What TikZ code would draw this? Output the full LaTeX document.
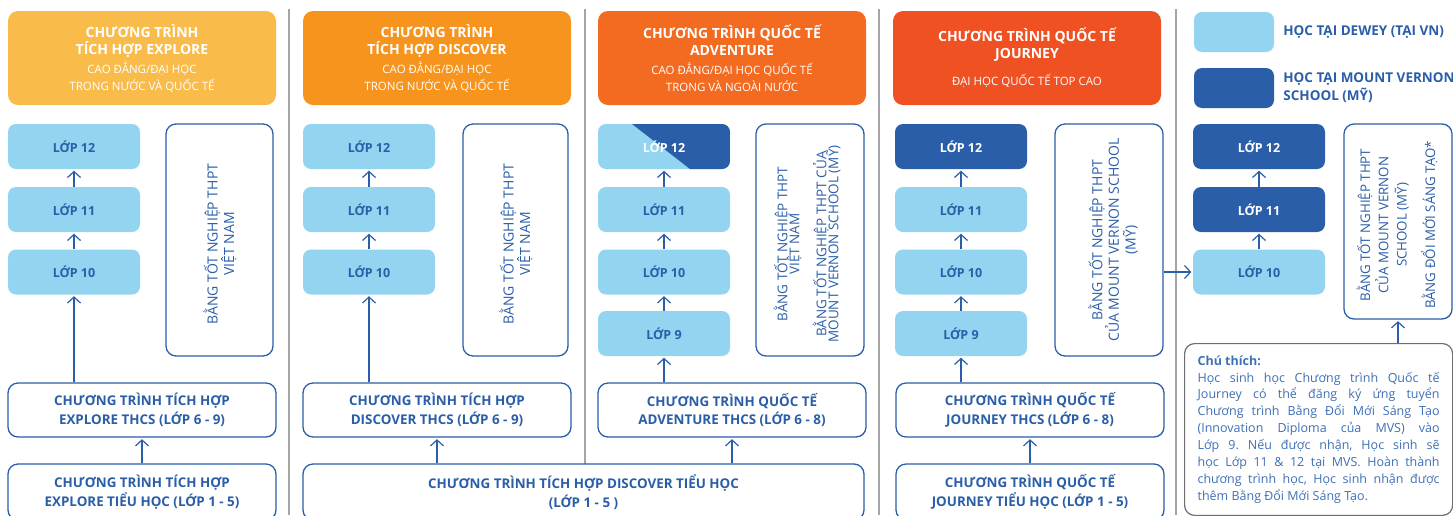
\documentclass[tikz,border=0pt]{standalone}
\usepackage{fontspec}
\setmainfont{Open Sans}
\usepackage{tikz}
\usetikzlibrary{arrows.meta,positioning,calc}
\definecolor{color0}{RGB}{249,188,74}
\definecolor{color1}{RGB}{247,148,29}
\definecolor{color2}{RGB}{242,107,33}
\definecolor{color3}{RGB}{240,81,35}
\definecolor{color4}{RGB}{147,212,240}
\definecolor{color6}{RGB}{42,94,168}
\definecolor{notecolor}{RGB}{62,112,182}
\definecolor{sepcolor}{RGB}{165,165,165}
\definecolor{noteedgecolor}{RGB}{110,110,110}
\newcommand{\tightlines}{\lineskiplimit=-20pt\relax}
\tikzstyle{header}=[rectangle, rounded corners=10pt, minimum width=268pt, minimum height=94pt, inner sep=0pt, text=white, align=center, font=\fontsize{11.5}{17}\selectfont]
\tikzstyle{grade}=[rectangle, rounded corners=8pt, minimum width=132pt, minimum height=45pt, inner sep=0pt, font=\bfseries\fontsize{12.5}{14}\selectfont]
\tikzstyle{dewey grade}=[grade, fill=color4, text=color6]
\tikzstyle{mvs grade}=[grade, fill=color6, text=white]
\tikzstyle{split grade}=[grade, fill=color4, text=white, path picture={\fill[color6, sharp corners] ($(path picture bounding box.north west)+(34,0)$) -- (path picture bounding box.north east) -- (path picture bounding box.south east) -- ($(path picture bounding box.south west)+(92,0)$) -- cycle;}]
\tikzstyle{diploma}=[rectangle, rounded corners=10pt, draw=color6, line width=1.3pt, minimum width=107pt, minimum height=232pt, inner sep=0pt]
\tikzstyle{diploma text}=[rotate=90, align=center, inner sep=0pt, text=color6, font=\fontsize{14}{16.7}\selectfont\tightlines]
\tikzstyle{program}=[rectangle, rounded corners=10pt, draw=color6, fill=white, line width=1.3pt, minimum height=54pt, inner sep=0pt, align=center, text=color6, font=\bfseries\fontsize{13.4}{18.5}\selectfont]
\tikzstyle{legend box}=[rectangle, rounded corners=8pt, minimum width=80pt, minimum height=40pt, inner sep=0pt]
\tikzstyle{legend text}=[align=left, inner sep=0pt, text=color6, font=\bfseries\fontsize{13.5}{18}\selectfont]
\tikzstyle{note}=[rectangle, rounded corners=10pt, draw=noteedgecolor, fill=white, line width=1.2pt, text width=242pt, inner xsep=13pt, inner ysep=12pt, align=justify, text=notecolor, font=\fontsize{12.5}{16.9}\selectfont]
\tikzstyle{gradeedge}=[-{Straight Barb[length=6pt,width=13pt]}, line width=1.2pt, color6, shorten >=1.5pt]
\tikzstyle{sepline}=[line width=1.5pt, sepcolor]

\begin{document}
\begin{tikzpicture}[x=1pt,y=-1pt]
\useasboundingbox (0,0) rectangle (1453,515);
\clip (0,0) rectangle (1453,515);

    % separators
    \foreach \x in {289,585,879,1176}
        \draw[sepline] (\x,9) -- (\x,515);

    \node[header, fill=color0] (h1) at (142,58) {{\bfseries\fontsize{14}{17}\selectfont CHƯƠNG TRÌNH}\\{\bfseries\fontsize{14}{17}\selectfont TÍCH HỢP EXPLORE}\\[2pt]CAO ĐẲNG/ĐẠI HỌC\\TRONG NƯỚC VÀ QUỐC TẾ};
    \node[header, fill=color1] (h2) at (437,58) {{\bfseries\fontsize{14}{17}\selectfont CHƯƠNG TRÌNH}\\{\bfseries\fontsize{14}{17}\selectfont TÍCH HỢP DISCOVER}\\[2pt]CAO ĐẲNG/ĐẠI HỌC\\TRONG NƯỚC VÀ QUỐC TẾ};
    \node[header, fill=color2] (h3) at (732,58) {{\bfseries\fontsize{14}{17}\selectfont CHƯƠNG TRÌNH QUỐC TẾ}\\{\bfseries\fontsize{14}{17}\selectfont ADVENTURE}\\[2pt]CAO ĐẲNG/ĐẠI HỌC QUỐC TẾ\\TRONG VÀ NGOÀI NƯỚC};
    \node[header, fill=color3] (h4) at (1027,58) {{\bfseries\fontsize{14}{17}\selectfont CHƯƠNG TRÌNH QUỐC TẾ}\\{\bfseries\fontsize{14}{17}\selectfont JOURNEY}\\[10pt]ĐẠI HỌC QUỐC TẾ TOP CAO};

    \node[legend box, fill=color4] (lg-dewey) at (1234,32) {};
    \node[legend text, right=9pt of lg-dewey] (lg-dewey-text) {HỌC TẠI DEWEY (TẠI VN)};
    \node[legend box, fill=color6] (lg-mvs) at (1234,88) {};
    \node[legend text, right=9pt of lg-mvs] (lg-mvs-text) {HỌC TẠI MOUNT VERNON\\SCHOOL (MỸ)};

    % grade columns
    \foreach \name / \y in {12/146.5, 11/209.5, 10/272}
        \node[dewey grade] (g1-\name) at (74,\y) {LỚP \name};
    \foreach \name / \y in {12/146.5, 11/209.5, 10/272}
        \node[dewey grade] (g2-\name) at (369,\y) {LỚP \name};
    \foreach \name / \y in {11/209.5, 10/272, 9/333.5}
        \node[dewey grade] (g3-\name) at (664,\y) {LỚP \name};
    \node[split grade] (g3-12) at (664,146.5) {LỚP 12};
    \foreach \name / \y in {11/209.5, 10/272, 9/333.5}
        \node[dewey grade] (g4-\name) at (961,\y) {LỚP \name};
    \node[mvs grade] (g4-12) at (961,146.5) {LỚP 12};
    \foreach \name / \y in {12/146.5, 11/209.5}
        \node[mvs grade] (g5-\name) at (1259,\y) {LỚP \name};
    \node[dewey grade] (g5-10) at (1259,272) {LỚP 10};

    % diplomas
    \node[diploma] (d1) at (219.5,240) {};
    \node[diploma text] (d1-text) at (220,244) {BẰNG TỐT NGHIỆP THPT\\VIỆT NAM};
    \node[diploma, minimum width=105pt] (d2) at (515.5,240) {};
    \node[diploma text] (d2-text) at (516,244) {BẰNG TỐT NGHIỆP THPT\\VIỆT NAM};
    \node[diploma, minimum width=108pt] (d3) at (810,240) {};
    \node[diploma text, font=\fontsize{13.5}{12}\selectfont\tightlines] (d3-text) at (807,244) {BẰNG TỐT NGHIỆP THPT\\VIỆT NAM\\[15pt]BẰNG TỐT NGHIỆP THPT CỦA\\MOUNT VERNON SCHOOL (MỸ)};
    \node[diploma, minimum width=108pt] (d4) at (1109,240) {};
    \node[diploma text] (d4-text) at (1113,240) {BẰNG TỐT NGHIỆP THPT\\CỦA MOUNT VERNON SCHOOL\\(MỸ)};
    \node[diploma, minimum width=108pt, minimum height=195pt] (d5) at (1398,221.5) {};
    \node[diploma text, font=\fontsize{13.3}{18.3}\selectfont\tightlines] (d5-text) at (1397,225) {BẰNG TỐT NGHIỆP THPT\\CỦA MOUNT VERNON\\SCHOOL (MỸ)\\[10pt]BẰNG ĐỔI MỚI SÁNG TẠO*};

    % lower school programs
    \node[program, minimum width=268pt] (m1) at (142,410) {CHƯƠNG TRÌNH TÍCH HỢP\\EXPLORE THCS (LỚP 6 - 9)};
    \node[program, minimum width=268pt] (m2) at (437,410) {CHƯƠNG TRÌNH TÍCH HỢP\\DISCOVER THCS (LỚP 6 - 9)};
    \node[program, minimum width=268pt] (m3) at (732,410) {CHƯƠNG TRÌNH QUỐC TẾ\\ADVENTURE THCS (LỚP 6 - 8)};
    \node[program, minimum width=268pt] (m4) at (1030,410) {CHƯƠNG TRÌNH QUỐC TẾ\\JOURNEY THCS (LỚP 6 - 8)};
    \node[program, minimum width=268pt, minimum height=56pt] (b1) at (142,492) {CHƯƠNG TRÌNH TÍCH HỢP\\EXPLORE TIỂU HỌC (LỚP 1 - 5)};
    \node[program, minimum width=561pt, minimum height=56pt] (b2) at (583.5,492) {CHƯƠNG TRÌNH TÍCH HỢP DISCOVER TIỂU HỌC\\(LỚP 1 - 5 )};
    \node[program, minimum width=268pt, minimum height=56pt] (b4) at (1030,492) {CHƯƠNG TRÌNH QUỐC TẾ\\JOURNEY TIỂU HỌC (LỚP 1 - 5)};

    \node[note, anchor=north west] (note) at (1184,343) {\tolerance=10000\frenchspacing{\bfseries Chú thích:}\\
        Học sinh học Chương trình Quốc tế\linebreak Journey có thể đăng ký ứng tuyển\linebreak Chương trình Bằng Đổi Mới Sáng Tạo\linebreak (Innovation Diploma của MVS) vào\linebreak Lớp 9. Nếu được nhận, Học sinh sẽ\linebreak học Lớp 11 \& 12 tại MVS. Hoàn thành\linebreak chương trình học, Học sinh nhận được\linebreak thêm Bằng Đổi Mới Sáng Tạo.};

    % connectors
    \foreach \c in {1,2,3,4}
        \foreach \lo / \hi in {10/11, 11/12}
            \path (g\c-\lo) edge[gradeedge] (g\c-\hi);
    \foreach \c in {3,4}
        \path (g\c-9) edge[gradeedge] (g\c-10);
    \path (g5-10) edge[gradeedge] (g5-11);
    \path (g5-11) edge[gradeedge] (g5-12);

    \draw[gradeedge] (g1-10 |- m1.north) -- (g1-10);
    \draw[gradeedge] (g2-10 |- m2.north) -- (g2-10);
    \draw[gradeedge] (g3-9 |- m3.north) -- (g3-9);
    \draw[gradeedge] (g4-9 |- m4.north) -- (g4-9);

    \path (b1) edge[gradeedge] (m1);
    \draw[gradeedge] (m2 |- b2.north) -- (m2);
    \draw[gradeedge] (m3 |- b2.north) -- (m3);
    \path (b4) edge[gradeedge] (m4);

    \draw[gradeedge] (d4.east |- g5-10) -- (g5-10.west);
    \draw[gradeedge] (d5 |- note.north) -- (d5.south);

\end{tikzpicture}
\end{document}
